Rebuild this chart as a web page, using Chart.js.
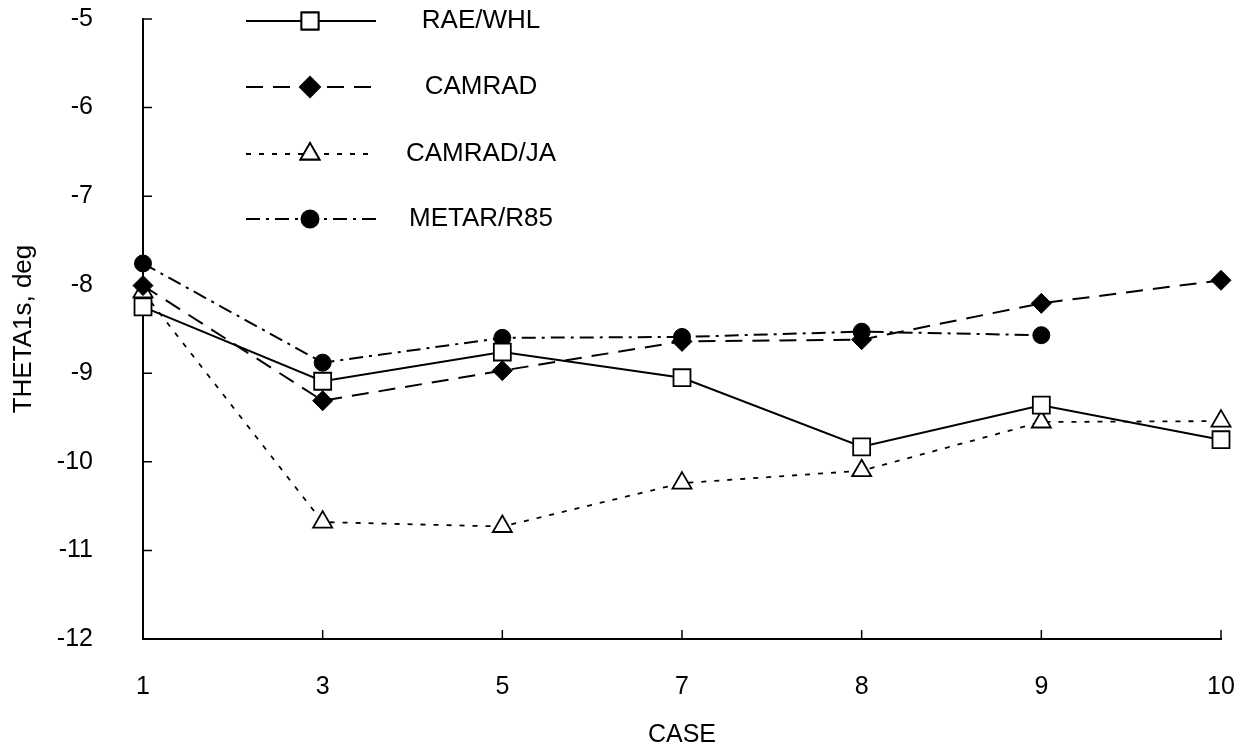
<!DOCTYPE html>
<html>
<head>
<meta charset="utf-8">
<title>THETA1s vs CASE</title>
<script src="https://cdn.jsdelivr.net/npm/chart.js@4.4.1/dist/chart.umd.min.js"></script>
<style>
  html, body { margin: 0; padding: 0; background: #fff; }
  #chart { display: block; }
</style>
</head>
<body>
<canvas id="chart" width="1246" height="750"></canvas>
<script>
// Cases along the x axis (evenly spaced categories)
const cases = ['1', '3', '5', '7', '8', '9', '10'];

// THETA1s, deg for each method
const raeWhl   = [-8.25, -9.09, -8.76, -9.05, -9.83, -9.36, -9.75];
const camrad   = [-8.01, -9.31, -8.97, -8.64, -8.62, -8.21, -7.95];
const camradJa = [-8.08, -10.68, -10.73, -10.24, -10.10, -9.55, -9.54];
const metarR85 = [-7.76, -8.88, -8.60, -8.59, -8.53, -8.57, null];

const seriesNames = ['RAE/WHL', 'CAMRAD', 'CAMRAD/JA', 'METAR/R85'];

const yMin = -12;
const yMax = -5;

const FONT = '"Liberation Sans", Arial, Helvetica, sans-serif';

// Inward tick marks on both axes
const inwardTicks = {
    id: 'inwardTicks',
    afterDraw(chart) {
        const { ctx, scales: { x, y }, chartArea } = chart;
        ctx.save();
        ctx.strokeStyle = '#000';
        ctx.lineWidth = 1.5;
        ctx.beginPath();
        y.ticks.forEach((t, i) => {
            const py = y.getPixelForTick(i);
            if (Math.abs(py - chartArea.bottom) < 1) return;
            ctx.moveTo(chartArea.left, py);
            ctx.lineTo(chartArea.left + 9, py);
        });
        x.ticks.forEach((t, i) => {
            const px = x.getPixelForTick(i);
            if (Math.abs(px - chartArea.left) < 1) return;
            ctx.moveTo(px, chartArea.bottom);
            ctx.lineTo(px, chartArea.bottom - 9);
        });
        ctx.stroke();
        ctx.restore();
    }
};

// Legend: line sample with marker in the middle, label to the right
const sampleLegend = {
    id: 'sampleLegend',
    afterDraw(chart) {
        const ctx = chart.ctx;
        const rows = [21, 87, 154, 219];
        ctx.save();
        chart.data.datasets.forEach((ds, i) => {
            const y = rows[i];
            ctx.strokeStyle = '#000';
            ctx.lineWidth = ds.borderWidth;
            ctx.setLineDash(ds.borderDash || []);
            ctx.beginPath();
            ctx.moveTo(246, y);
            ctx.lineTo(376, y);
            ctx.stroke();
            ctx.setLineDash([]);
            Chart.helpers.drawPoint(ctx, {
                pointStyle: ds.pointStyle,
                radius: ds.pointRadius,
                rotation: 0,
                borderWidth: ds.pointBorderWidth
            }, 310, y);
            ctx.fillStyle = ds.pointBackgroundColor;
            ctx.strokeStyle = '#000';
            ctx.lineWidth = ds.pointBorderWidth;
            ctx.fill();
            ctx.stroke();

            ctx.fillStyle = '#000';
            ctx.font = '26px ' + FONT;
            ctx.textAlign = 'center';
            ctx.textBaseline = 'middle';
            ctx.fillText(ds.label, 481, y);
        });
        ctx.restore();
    }
};

const lineBase = {
    borderColor: '#000',
    pointBorderColor: '#000',
    fill: false,
    tension: 0,
    clip: false,
    spanGaps: false
};

new Chart(document.getElementById('chart'), {
    type: 'line',
    data: {
        labels: cases,
        datasets: [
            { ...lineBase, label: seriesNames[0], data: raeWhl,
              borderWidth: 2, pointStyle: 'rect', pointRadius: 12,
              pointBackgroundColor: '#fff', pointBorderWidth: 1.8 },
            { ...lineBase, label: seriesNames[1], data: camrad,
              borderWidth: 2, borderDash: [17, 10], pointStyle: 'rectRot', pointRadius: 10,
              pointBackgroundColor: '#000', pointBorderWidth: 1 },
            { ...lineBase, label: seriesNames[2], data: camradJa,
              borderWidth: 1.8, borderDash: [5, 8], pointStyle: 'triangle', pointRadius: 11,
              pointBackgroundColor: '#fff', pointBorderWidth: 1.8 },
            { ...lineBase, label: seriesNames[3], data: metarR85,
              borderWidth: 2, borderDash: [14, 6, 3, 6], pointStyle: 'circle', pointRadius: 8.5,
              pointBackgroundColor: '#000', pointBorderWidth: 1 }
        ]
    },
    options: {
        responsive: false,
        animation: false,
        events: [],
        layout: { padding: { top: 19, right: 25, left: 0, bottom: 0 } },
        plugins: {
            legend: { display: false },
            tooltip: { enabled: false }
        },
        scales: {
            x: {
                type: 'category',
                offset: false,
                grid: { display: false, drawTicks: false },
                border: { display: true, color: '#000', width: 2 },
                ticks: {
                    color: '#000',
                    font: { family: FONT, size: 25 },
                    padding: 33,
                    maxRotation: 0,
                    autoSkip: false
                },
                title: {
                    display: true,
                    text: 'CASE',
                    color: '#000',
                    font: { family: FONT, size: 25 },
                    padding: { top: 0, bottom: 0 }
                },
                // fixed axis band; labels may overhang the plot edges
                afterFit(scale) {
                    scale.height = 111;
                    scale.paddingLeft = 0;
                    scale.paddingRight = 0;
                }
            },
            y: {
                min: yMin,
                max: yMax,
                grid: { display: false, drawTicks: false },
                border: { display: true, color: '#000', width: 2 },
                ticks: {
                    stepSize: 1,
                    color: '#000',
                    font: { family: FONT, size: 25 },
                    padding: 50
                },
                title: {
                    display: true,
                    text: 'THETA1s, deg',
                    color: '#000',
                    font: { family: FONT, size: 26 },
                    padding: { top: 8, bottom: 0 }
                },
                afterFit(scale) {
                    scale.width = 143;
                    scale.paddingTop = 0;
                    scale.paddingBottom = 0;
                }
            }
        }
    },
    plugins: [inwardTicks, sampleLegend]
});
</script>
</body>
</html>
